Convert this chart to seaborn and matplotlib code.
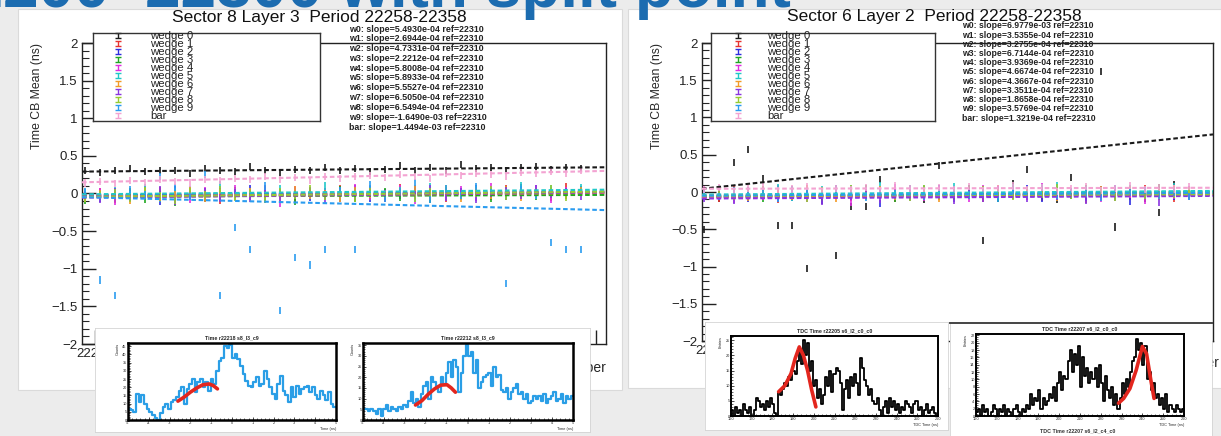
import numpy as np
import pandas as pd
import matplotlib
matplotlib.use("Agg")
import matplotlib.pyplot as plt
import seaborn as sns
from matplotlib.patches import Rectangle
from matplotlib.ticker import MultipleLocator

# ---------------- data ----------------
runs = list(range(22258, 22359, 3))
series = ["wedge 0", "wedge 1", "wedge 2", "wedge 3", "wedge 4", "wedge 5",
          "wedge 6", "wedge 7", "wedge 8", "wedge 9", "bar"]
short = ["w0", "w1", "w2", "w3", "w4", "w5", "w6", "w7", "w8", "w9", "bar"]
colors = ["#1a1a1a", "#e8312e", "#2d2de0", "#20a820", "#e02de0", "#20c8c8",
          "#f39a25", "#8a35e0", "#96cc30", "#2a9cf0", "#f3a3d2"]
ref_run = 22310

w0_L = [0.30,0.28,0.31,0.33,0.29,0.31,0.30,0.27,0.33,0.31,0.29,0.36,0.30,0.28,0.32,0.31,0.34,0.30,0.33,0.29,0.32,0.37,0.31,0.34,0.30,0.39,0.33,0.35,0.31,0.34,0.36,0.32,0.35,0.33]
w1_L = [-0.05,0.02,-0.08,0.01,-0.03,0.04,-0.06,-0.01,0.03,-0.09,0.00,-0.04,0.05,-0.02,-0.07,0.02,-0.01,0.06,-0.05,0.01,-0.03,0.08,-0.02,0.03,-0.06,0.00,0.04,-0.04,0.07,-0.01,0.02,-0.05,0.09,0.01]
w2_L = [-0.02,-0.07,0.03,-0.04,0.01,-0.10,0.05,-0.03,-0.06,0.02,-0.01,0.06,-0.08,0.00,0.04,-0.05,0.02,-0.03,0.07,-0.06,0.01,-0.02,0.05,-0.07,0.03,-0.01,0.06,0.00,-0.04,0.08,-0.02,0.04,-0.03,0.05]
w3_L = [-0.09,-0.03,-0.06,0.02,-0.08,-0.01,-0.12,0.03,-0.05,-0.02,0.04,-0.07,-0.03,0.01,-0.10,0.02,-0.04,0.05,-0.06,-0.02,0.03,-0.05,0.00,-0.08,0.04,-0.03,0.01,-0.06,0.05,-0.01,-0.04,0.02,-0.02,0.03]
w4_L = [-0.04,0.03,-0.11,-0.02,0.06,-0.05,0.01,-0.08,0.04,-0.03,0.07,-0.06,0.02,-0.13,0.05,-0.01,0.03,-0.07,0.08,-0.04,0.00,0.06,-0.09,0.03,-0.02,0.05,-0.05,0.09,0.01,-0.03,0.06,-0.08,0.04,0.02]
w5_L = [0.01,-0.05,0.04,-0.02,0.08,-0.07,0.02,0.05,-0.04,0.12,-0.01,0.03,-0.06,0.07,0.00,-0.03,0.10,-0.05,0.02,0.06,-0.02,0.04,-0.07,0.09,0.01,-0.04,0.05,0.02,-0.01,0.11,-0.03,0.06,0.00,0.08]
w6_L = [-0.06,0.00,-0.03,-0.09,0.02,-0.05,-0.01,0.04,-0.07,0.01,-0.04,0.03,-0.02,-0.08,0.05,-0.03,0.00,-0.06,0.04,-0.01,-0.05,0.02,0.06,-0.04,0.01,-0.07,0.03,-0.02,0.05,-0.05,0.02,0.00,-0.03,0.04]
w7_L = [-0.03,-0.08,0.02,-0.05,-0.01,0.05,-0.10,-0.02,0.03,-0.06,0.01,-0.04,0.06,-0.07,-0.01,0.04,-0.09,0.02,-0.03,0.05,-0.06,0.01,-0.02,0.07,-0.05,0.03,-0.08,0.00,0.04,-0.03,0.06,-0.01,0.02,-0.04]
w8_L = [-0.07,-0.02,0.01,-0.06,0.04,-0.03,-0.09,0.02,-0.01,0.05,-0.05,0.00,-0.08,0.03,-0.02,0.06,-0.04,0.01,-0.07,0.04,-0.01,0.03,-0.06,0.02,0.07,-0.03,0.00,0.05,-0.04,0.02,-0.02,0.06,-0.05,0.01]
w9_L = [0.02,-1.15,-1.35,0.05,-0.02,0.22,0.08,-0.04,0.25,-1.35,-0.45,-0.75,0.10,-1.55,-0.85,-0.95,-0.75,0.04,-0.75,0.12,-0.06,0.03,0.15,-0.08,0.06,-0.03,0.09,0.01,-1.20,0.05,-0.02,-0.65,-0.75,-0.75]
bar_L = [0.14,0.16,0.13,0.17,0.15,0.18,0.16,0.14,0.19,0.17,0.20,0.18,0.22,0.19,0.21,0.17,0.23,0.20,0.22,0.24,0.21,0.25,0.23,0.20,0.26,0.24,0.27,0.25,0.22,0.28,0.26,0.29,0.27,0.30]

w0_R = [-0.50,-0.08,0.40,0.57,0.18,-0.45,-0.45,-1.03,-0.12,-0.85,-0.20,-0.20,0.17,-0.06,0.02,-0.10,0.35,-0.04,0.05,-0.65,-0.08,0.12,0.30,-0.03,-0.10,0.20,-0.05,1.62,-0.47,0.03,-0.09,-0.27,0.10,-0.04]
w1_R = [-0.02,-0.08,0.03,-0.05,-0.01,-0.10,0.02,-0.06,-0.03,0.04,-0.07,-0.02,0.01,-0.09,-0.04,0.03,-0.06,0.00,-0.03,-0.08,0.05,-0.05,-0.01,-0.07,0.02,-0.04,-0.10,0.01,-0.03,-0.06,0.04,-0.02,-0.08,0.00]
w2_R = [-0.06,0.01,-0.04,-0.09,0.03,-0.02,-0.07,0.00,-0.12,-0.03,0.02,-0.05,-0.15,0.01,-0.06,-0.02,0.04,-0.08,-0.01,0.02,-0.06,-0.03,0.05,-0.09,-0.04,0.00,-0.07,0.03,-0.05,-0.13,-0.01,0.02,-0.06,-0.03]
w3_R = [-0.03,-0.06,-0.01,0.02,-0.08,-0.04,0.03,-0.02,-0.07,0.01,-0.05,0.04,-0.03,-0.09,0.00,-0.04,0.02,-0.06,0.05,-0.02,-0.08,0.01,-0.03,0.03,-0.05,-0.01,0.04,-0.07,0.00,0.02,-0.04,0.06,-0.02,-0.05]
w4_R = [0.03,-0.04,-0.10,0.00,-0.06,0.05,-0.02,-0.08,0.01,-0.04,-0.14,0.02,-0.05,0.06,-0.01,-0.07,0.03,-0.03,-0.09,0.04,-0.02,0.00,-0.06,0.07,-0.04,-0.01,0.02,-0.08,0.05,-0.03,-0.11,0.01,-0.05,0.03]
w5_R = [-0.01,0.04,-0.05,0.02,-0.03,0.06,-0.07,0.01,0.03,-0.04,0.05,-0.02,0.08,-0.06,0.00,0.04,-0.03,0.07,-0.01,0.02,-0.05,0.06,0.01,-0.02,0.09,-0.04,0.03,0.00,-0.06,0.05,0.02,-0.03,0.07,-0.01]
w6_R = [-0.05,-0.01,0.02,-0.07,-0.03,0.01,-0.06,0.04,-0.02,-0.08,0.00,-0.04,0.03,-0.06,0.05,-0.01,-0.09,0.02,-0.03,0.01,0.04,-0.05,-0.02,0.06,-0.07,0.00,-0.03,0.03,-0.05,0.01,-0.02,-0.06,0.04,0.00]
w7_R = [-0.08,-0.03,-0.11,0.00,-0.05,-0.09,0.01,-0.04,-0.13,-0.02,-0.06,0.02,-0.10,-0.03,-0.07,0.00,-0.05,-0.12,-0.01,-0.08,0.03,-0.04,-0.09,-0.02,-0.06,0.01,-0.11,-0.03,-0.07,0.00,-0.05,-0.14,-0.02,-0.06]
w8_R = [-0.04,0.00,-0.06,-0.02,0.03,-0.05,-0.01,-0.08,0.02,-0.03,0.05,-0.06,0.00,-0.02,-0.07,0.04,-0.04,0.01,-0.05,0.03,-0.01,-0.06,0.02,-0.03,0.06,-0.04,-0.02,0.01,-0.07,0.03,-0.05,0.00,-0.03,0.02]
w9_R = [-0.02,-0.06,0.02,-0.04,0.00,-0.08,0.03,-0.01,-0.05,0.04,-0.03,-0.07,0.01,-0.02,0.05,-0.06,-0.01,0.03,-0.04,0.00,-0.09,0.02,-0.03,0.06,-0.05,0.01,-0.02,-0.07,0.04,-0.01,0.02,-0.04,0.00,-0.06]
bar_R = [0.03,0.06,0.01,0.05,0.08,0.02,0.04,0.07,0.00,0.05,0.03,0.06,0.02,0.09,0.04,0.01,0.06,0.03,0.07,0.02,0.05,0.08,0.03,0.06,0.01,0.04,0.07,0.02,0.05,0.09,0.03,0.06,0.04,0.07]

slopes_L = [5.4930e-04, 2.6944e-04, 4.7331e-04, 2.2212e-04, 5.8008e-04, 5.8933e-04,
            5.5527e-04, 6.5050e-04, 6.5494e-04, -1.6490e-03, 1.4494e-03]
icpt_L = [0.32, -0.01, 0.00, -0.03, -0.01, 0.02, -0.02, -0.02, -0.01, -0.135, 0.225]
slopes_R = [6.9779e-03, 3.5355e-04, 3.2755e-04, 6.7144e-04, 3.9369e-04, 4.6674e-04,
            4.3667e-04, 3.3511e-04, 1.8658e-04, 3.5769e-04, 1.3219e-04]
icpt_R = [0.41, -0.04, -0.05, -0.03, -0.06, -0.01, -0.04, -0.07, -0.04, -0.03, 0.05]

yticks = [-2, -1.5, -1, -0.5, 0, 0.5, 1, 1.5, 2]
ytick_labels = ["\u22122", "\u22121.5", "\u22121", "\u22120.5", "0", "0.5", "1", "1.5", "2"]
xticks = [22260, 22280, 22300, 22320, 22340, 22360]
xtick_labels = ["22260", "22280", "22300", "22320", "22340", ""]

# inset histograms
histA = [7,6,5,16,11,15,10,7,5,3,1,0,4,8,10,7,11,12,14,18,20,10,19,22,25,17,23,25,20,23,18,25,22,
         30,36,38,45,44,46,38,40,37,33,
         28,24,21,20,23,26,21,22,30,25,20,16,13,22,27,18,15,11,20,14,21,16,19,20,21,17,20,15,13,18,15,12,17,10,8]
fitA_x = [-2.6, -2.3, -2.0, -1.7, -1.4, -1.1, -0.9, -0.7]
fitA_y = [11.5, 14.0, 17.0, 19.5, 21.5, 22.0, 21.0, 19.0]
histB = [5,5,4,5,4,3,5,2,5,7,4,6,5,4,6,5,7,6,9,13, 8,10,6,12,16,18,10,20,
         18,15,13,20,17,22,27,20,28,25,13, 22,30,35,30,32,22,28,15,
         18,20,21,22,16,25,20,21,14,13,15,10,13,15,17,12,
         13,10,12,8,9,11,10,11,9,12,8,10,11,13,9,10,12,8,11,10,11]
fitB_x = [-2.5, -2.2, -1.9, -1.6, -1.3, -1.0, -0.8, -0.6]
fitB_y = [7.0, 9.0, 12.0, 14.5, 16.3, 16.5, 15.0, 13.0]
histC = [2,0,3,1,2,0,4,2,1,3,0,2,6,5,3,4,2,5,3,6,4,1,
         0,8,7,9,11,10,13,12,15,14,18,22,17, 25,20,24, 15,18,10,12,6,9,4,7,
         13,10,15,8,14,16,15,11,2,9,12,6,13,10,14,11,7, 19,16,12,
         10,7,9,5,4,6,2,0,3,5,1,
         6,3,5,2,4,1,3,2,5,4,3,1,4,5,2,3,0,2,4,1,2,3,1,0]
fitC_x = [183, 186, 189, 191, 193, 195, 197, 199, 201]
fitC_y = [8.0, 10.0, 14.0, 19.0, 22.8, 20.0, 15.0, 8.5, 3.0]
histD = [1,2,0,3,1,2,0,1,3,2,0,2,1,3,0,2,1,0,2,3,1,0,2,1,3,
         2,6,3,5,4,7,2,5,3,4, 6,5,8,4,9,12,7,11,10,15, 18,12,17,14,19,8,16,11,
         13,9,12,10,13,8,14,9,4,11, 7,5,8,3,6,2,5, 9,6,10,8,12,15,
         16,21,18,20,14,19,10, 12,7,9,5,6, 3,5,2,6,1,3,2,1,3,2,1,2]
fitD_x = [228.5, 231, 234, 237, 240, 242, 244, 245.6]
fitD_y = [3.5, 4.8, 7.5, 12.5, 19.0, 17.0, 10.0, 4.8]

# ---------------- styling ----------------
sns.set_theme(style="ticks")
plt.rcParams["font.family"] = ["Liberation Sans", "DejaVu Sans"]
plt.rcParams["axes.linewidth"] = 1.0
plt.rcParams["axes.edgecolor"] = "#222222"

W, H = 1221, 436


def frac(x0, y0, x1, y1):
    return [x0 / W, 1 - y1 / H, (x1 - x0) / W, (y1 - y0) / H]


fig = plt.figure(figsize=(W / 100, H / 100), dpi=100, facecolor="#ececec")

# slide cards (background)
for (x0, y0, x1, y1) in [(18, 9, 622, 390), (628, 9, 1221, 388)]:
    fig.patches.append(Rectangle((x0 / W, 1 - y1 / H), (x1 - x0) / W, (y1 - y0) / H,
                                 transform=fig.transFigure, facecolor="white",
                                 edgecolor="#dadada", lw=0.8, zorder=-1))


def main_panel(box, vals, slopes, icpts, ylab_x, xlab_pos):
    ax = fig.add_axes(frac(*box))
    ax.set_facecolor("white")
    df = pd.DataFrame({
        "run": runs * len(series),
        "value": sum(vals, []),
        "series": np.repeat(series, len(runs)),
    })
    sns.scatterplot(data=df, x="run", y="value", hue="series",
                    palette=dict(zip(series, colors)), marker="|", s=26,
                    linewidth=1.2, legend=False, ax=ax, zorder=3)
    xs = [22257.5, 22362]
    for c, m, b in zip(colors, slopes, icpts):
        ys = [b + m * (x - ref_run) for x in xs]
        sns.lineplot(x=xs, y=ys, color=c, linewidth=1.5,
                     linestyle=(0, (2.2, 1.3)), ax=ax, zorder=4)
    ax.set_xlim(22257.5, 22362)
    ax.set_ylim(-2, 2)
    ax.set_yticks(yticks, labels=ytick_labels)
    ax.set_xticks(xticks, labels=xtick_labels)
    ax.yaxis.set_minor_locator(MultipleLocator(0.1))
    ax.xaxis.set_minor_locator(MultipleLocator(5))
    ax.tick_params(which="major", direction="in", length=10, width=1,
                   labelsize=9.5, pad=3, left=True, bottom=True, right=False, top=False,
                   colors="#222222")
    ax.tick_params(which="minor", direction="in", length=5, width=0.8,
                   left=True, bottom=True, right=False, top=False)
    for sp in ax.spines.values():
        sp.set_visible(True)
        sp.set_linewidth(1.0)
        sp.set_color("#222222")
    ax.set_ylabel("Time CB Mean (ns)", fontsize=8.8, loc="top")
    ax.yaxis.set_label_coords(ylab_x, 1.0)
    ax.set_xlabel("Run Number", fontsize=10, loc="right")
    ax.xaxis.set_label_coords(*xlab_pos)
    return ax


axL = main_panel((82, 43, 606, 344), [w0_L, w1_L, w2_L, w3_L, w4_L, w5_L, w6_L, w7_L, w8_L, w9_L, bar_L],
                 slopes_L, icpt_L, (43 - 82) / 524, (1.0, -0.058))
axR = main_panel((702, 43, 1213, 341), [w0_R, w1_R, w2_R, w3_R, w4_R, w5_R, w6_R, w7_R, w8_R, w9_R, bar_R],
                 slopes_R, icpt_R, (663 - 702) / 511, (1.012, -0.05))


def legend_box(x0, y0, x1, y1, sym_dx, txt_dx, y_first, dy):
    lax = fig.add_axes(frac(x0, y0, x1, y1))
    lax.set_facecolor("white")
    lax.set_xlim(x0, x1)
    lax.set_ylim(y1, y0)
    lax.set_xticks([])
    lax.set_yticks([])
    for sp in lax.spines.values():
        sp.set_visible(True)
        sp.set_linewidth(1.0)
        sp.set_color("#333333")
    for i, (s, c) in enumerate(zip(series, colors)):
        y = y_first + i * dy
        lax.errorbar([x0 + sym_dx], [y], yerr=[2.6], color=c, capsize=2.2,
                     lw=1.0, capthick=1.0, clip_on=False)
        lax.text(x0 + txt_dx, y + 0.5, s, fontsize=8.2, va="center", ha="left",
                 color="#222222", clip_on=False)


legend_box(93, 33, 320, 121, 25, 57, 35.5, 8.0)
legend_box(711, 33, 935, 121, 27, 56, 35.5, 8.0)

# titles
fig.text(319 / W, 1 - 22 / H, "Sector 8 Layer 3  Period 22258-22358", ha="center",
         va="baseline", fontsize=12.5, color="#111111")
fig.text(934 / W, 1 - 21 / H, "Sector 6 Layer 2  Period 22258-22358", ha="center",
         va="baseline", fontsize=12.5, color="#111111")

# slope / fit annotations
for i, (n, m) in enumerate(zip(short, slopes_L)):
    fig.text(349 / W, 1 - (29.0 + i * 9.8) / H, f"{n}: slope={m:.4e} ref={ref_run}",
             fontsize=6.4, fontweight="bold", va="center", ha="left", color="#222222")
for i, (n, m) in enumerate(zip(short, slopes_R)):
    fig.text(962 / W, 1 - (26.0 + i * 9.2) / H, f"{n}: slope={m:.4e} ref={ref_run}",
             fontsize=6.2, fontweight="bold", va="center", ha="left", color="#222222")


# ---------------- inset screenshots ----------------
def card(x0, y0, x1, y1, top_line=False):
    cax = fig.add_axes(frac(x0, y0, x1, y1))
    cax.set_facecolor("white")
    cax.set_xticks([])
    cax.set_yticks([])
    for sp in cax.spines.values():
        sp.set_linewidth(0.6)
        sp.set_color("#d4d4d4")
    if top_line:
        cax.spines["top"].set_color("#444444")
        cax.spines["top"].set_linewidth(1.4)
    return cax


def inset(box, counts, xr, color, lw, fx, fy, title, ylab, xlab, ylim, ytk, xtk, frame_lw):
    iax = fig.add_axes(frac(*box))
    iax.set_facecolor("white")
    step = (xr[1] - xr[0]) / len(counts)
    centers = [xr[0] + step * (k + 0.5) for k in range(len(counts))]
    hdf = pd.DataFrame({"x": centers, "w": counts})
    sns.histplot(data=hdf, x="x", weights="w", bins=len(counts), binrange=xr,
                 element="step", fill=False, color=color, linewidth=lw, ax=iax)
    sns.lineplot(x=fx, y=fy, color="#e3261e", linewidth=2.6, ax=iax)
    iax.set_xlim(*xr)
    iax.set_ylim(*ylim)
    iax.set_yticks(ytk, labels=[str(t) for t in ytk])
    iax.set_xticks(xtk, labels=[str(t) for t in xtk])
    iax.tick_params(which="major", direction="in", length=2.5, width=0.6,
                    labelsize=2.8, pad=1)
    iax.minorticks_on()
    iax.tick_params(which="minor", direction="in", length=1.2, width=0.5)
    for sp in iax.spines.values():
        sp.set_visible(True)
        sp.set_linewidth(frame_lw)
        sp.set_color("black")
    iax.set_title(title, fontsize=3.8, fontweight="bold", pad=2.5)
    iax.set_ylabel(ylab, fontsize=2.8, loc="top", labelpad=2)
    iax.set_xlabel(xlab, fontsize=2.8, loc="right", labelpad=1)
    return iax


card(95, 328, 590, 432)
inset((128, 343, 336, 420), histA, (-5, 5), "#2a9ee6", 1.6, fitA_x, fitA_y,
      "Time r22218 s8_l3_c9", "Counts", "Time (ns)", (0, 47),
      [0, 5, 10, 15, 20, 25, 30, 35, 40, 45], [-5, -4, -3, -2, -1, 0, 1, 2, 3, 4, 5], 1.8)
inset((363, 343, 573, 420), histB, (-5, 5), "#2a9ee6", 1.6, fitB_x, fitB_y,
      "Time r22212 s8_l3_c9", "Counts", "Time (ns)", (0, 36),
      [0, 5, 10, 15, 20, 25, 30, 35], [-5, -4, -3, -2, -1, 0, 1, 2, 3, 4, 5], 1.8)

card(705, 322, 948, 430)
card(950, 323, 1212, 436, top_line=True)
inset((731, 336, 938, 416), histC, (160, 260), "black", 1.3, fitC_x, fitC_y,
      "TDC Time r22205 s6_l2_c0_c0", "Entries", "TDC Time (ns)", (0, 26.4),
      [0, 5, 10, 15, 20, 25], [160, 170, 180, 190, 200, 210, 220, 230, 240, 250, 260], 1.4)
inset((976, 334, 1184, 416), histD, (160, 260), "black", 1.3, fitD_x, fitD_y,
      "TDC Time r22207 s6_l2_c0_c0", "Entries", "TDC Time (ns)", (0, 22.4),
      [0, 2, 4, 6, 8, 10, 12, 14, 16, 18, 20, 22],
      [160, 170, 180, 190, 200, 210, 220, 230, 240, 250, 260], 1.4)
fig.text(1078 / W, 1 - 431 / H, "TDC Time r22207 s6_l2_c4_c0", ha="center", va="center",
         fontsize=3.8, fontweight="bold", color="#333333", zorder=10)

# slide heading, mostly cropped at the top
fig.text(-68 / W, 1 - 7 / H, "22200\u201322300 with split point", fontsize=46,
         fontweight="bold", color="#1c6cb0", ha="left", va="baseline", zorder=10)

fig.savefig("out.png", dpi=100, facecolor=fig.get_facecolor())
